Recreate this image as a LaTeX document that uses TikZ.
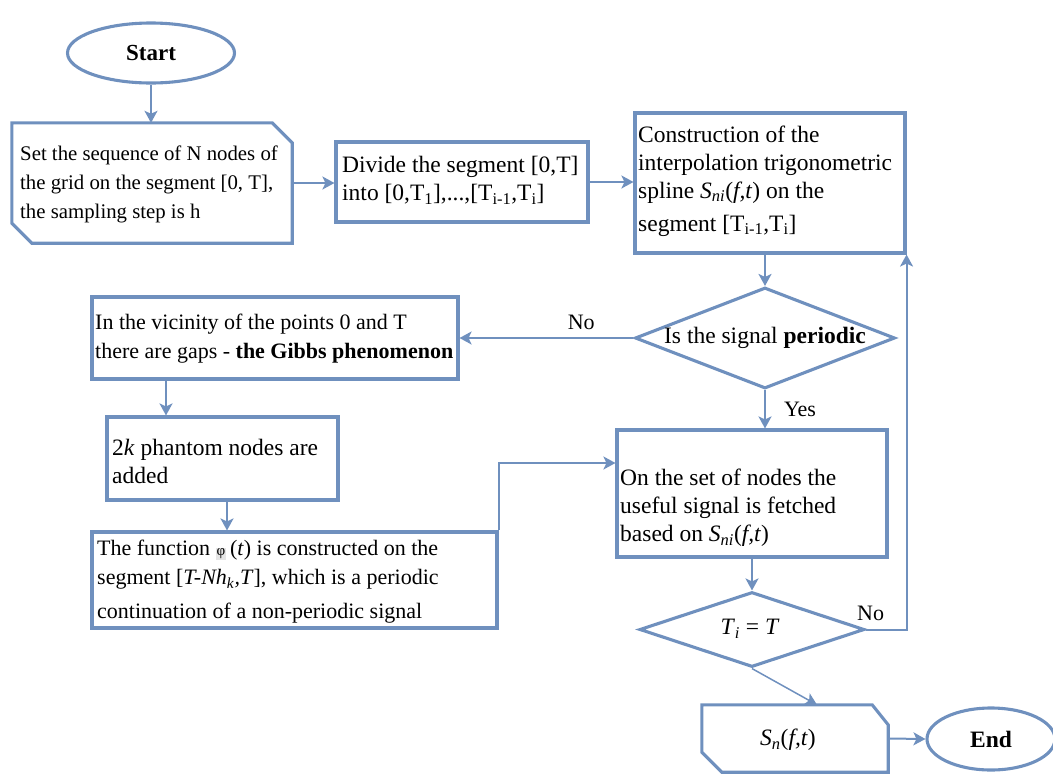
\documentclass[tikz,border=0pt]{standalone}
\usepackage{fontspec}
\setmainfont{Liberation Serif}
\usetikzlibrary{shapes.geometric,arrows.meta,calc}
\definecolor{bl}{RGB}{111,144,190}
\newcommand{\fA}{\fontsize{23.5}{28}\selectfont}
\newcommand{\fB}{\fontsize{20.8}{29}\selectfont}
\newcommand{\fC}{\fontsize{22}{29}\selectfont}
\begin{document}
\begin{tikzpicture}[x=1pt,y=-1pt,
  boxline/.style={draw=bl,line width=3.1pt},
  rbox/.style={boxline,rectangle,inner sep=0pt},
  plainbox/.style={rectangle,inner sep=0pt},
  ell/.style={boxline,ellipse,inner sep=0pt},
  dia/.style={boxline,diamond,inner sep=0pt},
  txt/.style={align=left,inner sep=0pt,text=black},
  conn/.style={draw=bl,line width=2pt,-{Stealth[length=12pt,width=13pt,inset=3pt]}},
  lbl/.style={inner sep=0pt,font=\fC}]
\useasboundingbox (0,0) rectangle (1053,774);

% shapes
\node[ell,minimum width=167pt,minimum height=60pt,font=\fontsize{23}{28}\selectfont] (start) at (151,53) {\textbf{Start}};
\node[plainbox,minimum width=280pt,minimum height=120pt] (set) at (152,183) {};
\draw[boxline,line join=miter] (set.north west) -- ([xshift=-20pt]set.north east) -- ([yshift=-20pt]set.north east)
  -- (set.south east) -- ([xshift=20pt]set.south west) -- ([yshift=20pt]set.south west) -- cycle;
\node[rbox,minimum width=252pt,minimum height=80pt] (divide) at (462,182) {};
\node[rbox,minimum width=270pt,minimum height=140pt] (constr) at (770,183) {};
\node[dia,minimum width=260pt,minimum height=101pt] (d1) at (765,338) {};
\node[rbox,minimum width=366pt,minimum height=82pt] (gibbs) at (275,338) {};
\node[rbox,minimum width=231pt,minimum height=83pt] (twok) at (222.5,458.5) {};
\node[rbox,minimum width=405pt,minimum height=96pt] (func) at (294.5,580) {};
\node[rbox,minimum width=270pt,minimum height=127pt] (on) at (752,493.5) {};
\node[dia,minimum width=225pt,minimum height=75pt] (d2) at (752,629.5) {};
\node[plainbox,minimum width=186pt,minimum height=67pt] (sn) at (795,738.5) {};
\draw[boxline,line join=miter] (sn.north west) -- ([xshift=-16pt]sn.north east) -- ([yshift=-20pt]sn.north east)
  -- (sn.south east) -- ([xshift=20pt]sn.south west) -- ([yshift=20pt]sn.south west) -- cycle;
\node[ell,minimum width=128pt,minimum height=62pt,font=\fA] (end) at (991,739) {\textbf{End}};

% texts
\node[txt,anchor=west,font=\fB] (settx) at (20,184) {Set the sequence of N nodes of\\the grid on the segment [0, T],\\the sampling step is h};
\node[txt,anchor=west,font=\fA] (dividetx) at (342,180) {Divide the segment [0,T]\\into [0,T\textsubscript{1}],...,[T\textsubscript{i-1},T\textsubscript{i}]};
\node[txt,anchor=west,font=\fA] (constrtx) at (638,181) {Construction of the\\interpolation trigonometric\\spline \textit{S}\textsubscript{\textit{ni}}(\textit{f,t}) on the\\[5pt]segment [T\textsubscript{i-1},T\textsubscript{i}]};
\node[txt,font=\fA] (d1tx) at (765,338) {Is the signal \textbf{periodic}};
\node[txt,anchor=west,font=\fC] (gibbstx) at (95,339) {In the vicinity of the points 0 and T\\there are gaps - \textbf{the Gibbs phenomenon}};
\node[txt,anchor=west,font=\fA] (twoktx) at (112,461) {2\textit{k} phantom nodes are\\added};
\node[txt,anchor=west,font=\fC] (functx) at (97,582) {The function {\setlength\fboxsep{1pt}\colorbox{black!10}{\fontsize{15}{15}\selectfont φ}}\,(\textit{t}) is constructed on the\\segment [\textit{T-Nh}\textsubscript{\textit{k}}\textit{,T}], which is a periodic\\[5pt]continuation of a non-periodic signal};
\node[txt,anchor=west,font=\fA] (ontx) at (620,508) {On the set of nodes the\\useful signal is fetched\\based on \textit{S}\textsubscript{\textit{ni}}(\textit{f,t})};
\node[txt,font=\fA] (d2tx) at (750,629) {\textit{T}\textsubscript{\textit{i}} = \textit{T}};
\node[txt,font=\fA] (sntx) at (788,740) {\textit{S}\textsubscript{\textit{n}}(\textit{f,t})};

% connectors
\draw[conn] (start.south) -- (start.south |- set.north);
\draw[conn] (set.east) -- (set.east -| divide.west);
\draw[conn] (divide.east) -- (divide.east -| constr.west);
\draw[conn] (d1.north |- constr.south) -- (d1.north);
\draw[conn] (d1.west) -- (d1.west -| gibbs.east) node[lbl,pos=0.3,above=7pt] (no1) {No};
\coordinate (g1) at (166,379);
\draw[conn] (g1) -- (g1 |- twok.north);
\coordinate (k1) at (227,500);
\draw[conn] (k1) -- (k1 |- func.north);
\draw[conn] (func.north east) |- ([yshift=30.5pt]on.west);
\draw[conn] (d1.south) -- (d1.south |- on.north) node[lbl,pos=0.5,right=18pt] (yes) {Yes};
\draw[conn] (on.south) -- (d2.north);
\draw[conn] (d2.east) -| (constr.south east);
\node[lbl,anchor=south west] (no2) at (857,621) {No};
\draw[conn,line width=1.5pt] (d2.south) -- ([xshift=22pt]sn.north);
\draw[conn] (sn.east) -- (end.west);
\end{tikzpicture}
\end{document}
